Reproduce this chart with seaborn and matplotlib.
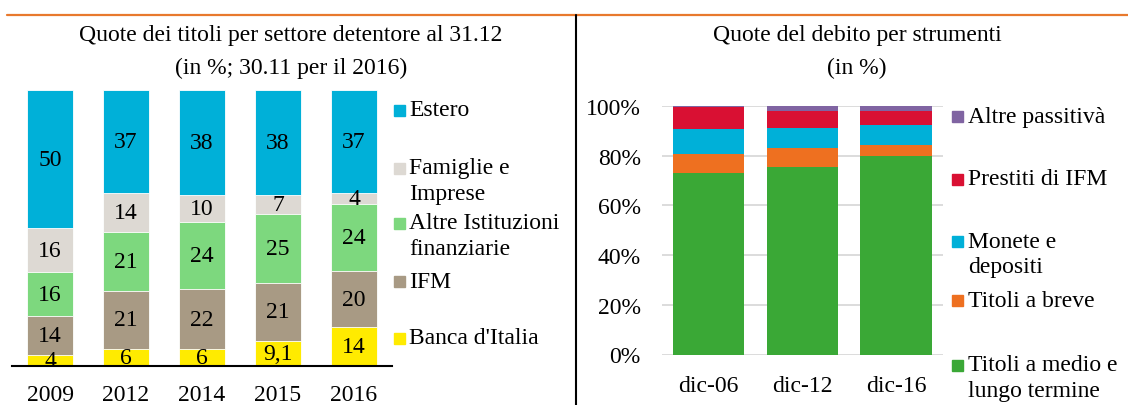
import pandas as pd
import matplotlib
matplotlib.use("Agg")
import matplotlib.pyplot as plt
from matplotlib.patches import Rectangle
from matplotlib.lines import Line2D
import seaborn as sns

# left chart: shares of government securities by holder sector
years = ["2009", "2012", "2014", "2015", "2016"]
holders = ["Banca d'Italia", "IFM", "Altre Istituzioni finanziarie", "Famiglie e Imprese", "Estero"]
banca_italia = [4, 6, 6, 9.1, 14]
ifm = [14, 21, 22, 21, 20]
altre_istituzioni = [16, 21, 24, 25, 24]
famiglie_imprese = [16, 14, 10, 7, 4]
estero = [50, 37, 38, 38, 37]
holder_labels = [["4", "6", "6", "9,1", "14"],
                 ["14", "21", "22", "21", "20"],
                 ["16", "21", "24", "25", "24"],
                 ["16", "14", "10", "7", "4"],
                 ["50", "37", "38", "38", "37"]]
holder_colors = ["#FFEB00", "#A89A84", "#7DD87E", "#DDD9D3", "#00B0D8"]
holder_legend = ["Estero", "Famiglie e\nImprese", "Altre Istituzioni\nfinanziarie", "IFM", "Banca d'Italia"]

# right chart: debt shares by instrument
dates = ["dic-06", "dic-12", "dic-16"]
instruments = ["Titoli a medio e lungo termine", "Titoli a breve", "Monete e depositi",
               "Prestiti di IFM", "Altre passitivà"]
titoli_ml = [72.9, 75.6, 79.7]
titoli_breve = [7.7, 7.3, 4.7]
monete_depositi = [10.0, 8.2, 7.8]
prestiti_ifm = [8.9, 6.9, 5.8]
altre_passivita = [0.5, 2.0, 2.0]
instrument_colors = ["#3AA836", "#EE7020", "#00B0D8", "#D91033", "#8064A2"]
instrument_legend = ["Altre passitivà", "Prestiti di IFM", "Monete e\ndepositi",
                     "Titoli a breve", "Titoli a medio e\nlungo termine"]

sns.set_theme(style="white")
plt.rcParams["font.family"] = ["Liberation Serif", "DejaVu Serif"]
plt.rcParams["text.color"] = "black"
plt.rcParams["xtick.color"] = "black"
plt.rcParams["ytick.color"] = "black"
FS = 17

W, H = 1128, 406
fig = plt.figure(figsize=(W / 100, H / 100), dpi=100)


def fx(px):
    return px / W


def fy(py):
    return 1 - py / H


def stacked(ax, cats, layers, colors, width, edge):
    # bars are shown as shares of the column total (all columns reach 100)
    totals = [sum(col) for col in zip(*layers)]
    shares = [[100 * v / t for v, t in zip(vals, totals)] for vals in layers]
    df = pd.DataFrame({"cat": cats})
    cum = [0.0] * len(cats)
    tops = []
    for vals in shares:
        cum = [c + v for c, v in zip(cum, vals)]
        tops.append(list(cum))
    # draw totals first, then lower layers on top of them
    for i in range(len(layers) - 1, -1, -1):
        df["top"] = tops[i]
        sns.barplot(data=df, x="cat", y="top", order=cats, color=colors[i], width=width,
                    saturation=1, edgecolor=edge, linewidth=0.6 if edge else 0, ax=ax)
    return shares, tops


def legend(entries, colors, centers, mx, tx):
    for label, col, cy in zip(entries, colors, centers):
        fig.patches.append(Rectangle((fx(mx), fy(cy + 5.5)), fx(11), 11 / H, color=col,
                                     transform=fig.transFigure, figure=fig))
        for k, line in enumerate(label.split("\n")):
            fig.text(fx(tx), fy(cy + 26 * k), line, fontsize=FS, va="center", ha="left")


# ---- left panel
ax1 = fig.add_axes([fx(12), fy(367), fx(380), 276 / H])
layers1 = [banca_italia, ifm, altre_istituzioni, famiglie_imprese, estero]
shares1, tops1 = stacked(ax1, years, layers1, holder_colors, 0.61, "white")
for i, vals in enumerate(shares1):
    for j, v in enumerate(vals):
        ax1.text(j, tops1[i][j] - v / 2, holder_labels[i][j], ha="center", va="center",
                 fontsize=FS, color="black")
ax1.set_xlim(-0.5, 4.5)
ax1.set_ylim(0, 100)
ax1.set_xlabel("")
ax1.set_ylabel("")
ax1.set_yticks([])
ax1.tick_params(axis="x", length=0, pad=13, labelsize=FS)
for s in ["top", "left", "right"]:
    ax1.spines[s].set_visible(False)
ax1.spines["bottom"].set_color("black")
ax1.spines["bottom"].set_linewidth(1.5)
ax1.set_zorder(3)
legend(holder_legend, holder_colors[::-1], [111, 169, 224, 282, 339], 394, 409)

# ---- right panel
ax2 = fig.add_axes([fx(661.7), fy(355.5), fx(281.2), 248.5 / H])
layers2 = [titoli_ml, titoli_breve, monete_depositi, prestiti_ifm, altre_passivita]
stacked(ax2, dates, layers2, instrument_colors, 0.763, None)
ax2.set_xlim(-0.5, 2.5)
ax2.set_ylim(0, 100)
ax2.set_yticks([0, 20, 40, 60, 80, 100])
ax2.set_yticklabels([f"{t}%" for t in [0, 20, 40, 60, 80, 100]])
ax2.yaxis.grid(True, color="#D9D9D9", linewidth=1.3)
ax2.set_axisbelow(True)
ax2.set_xlabel("")
ax2.set_ylabel("")
ax2.tick_params(axis="y", length=0, pad=15, labelsize=FS)
ax2.tick_params(axis="x", length=0, pad=15, labelsize=FS)
for s in ax2.spines.values():
    s.set_visible(False)
legend(instrument_legend, instrument_colors[::-1], [117.5, 180, 242, 301.5, 366], 952, 968)

# ---- titles and frame lines
fig.text(fx(291), fy(35), "Quote dei titoli per settore detentore al 31.12", ha="center",
         va="center", fontsize=FS)
fig.text(fx(291), fy(68), "(in %; 30.11 per il 2016)", ha="center", va="center", fontsize=FS)
fig.text(fx(857), fy(35), "Quote del debito per strumenti", ha="center", va="center", fontsize=FS)
fig.text(fx(857), fy(68), "(in %)", ha="center", va="center", fontsize=FS)
fig.lines.append(Line2D([fx(7), 1], [fy(15.5), fy(15.5)], color="#E8792D", linewidth=1.6,
                        transform=fig.transFigure))
fig.lines.append(Line2D([fx(576), fx(576)], [fy(16), 0], color="black", linewidth=1.5,
                        transform=fig.transFigure))

fig.savefig("out.png", dpi=100)
